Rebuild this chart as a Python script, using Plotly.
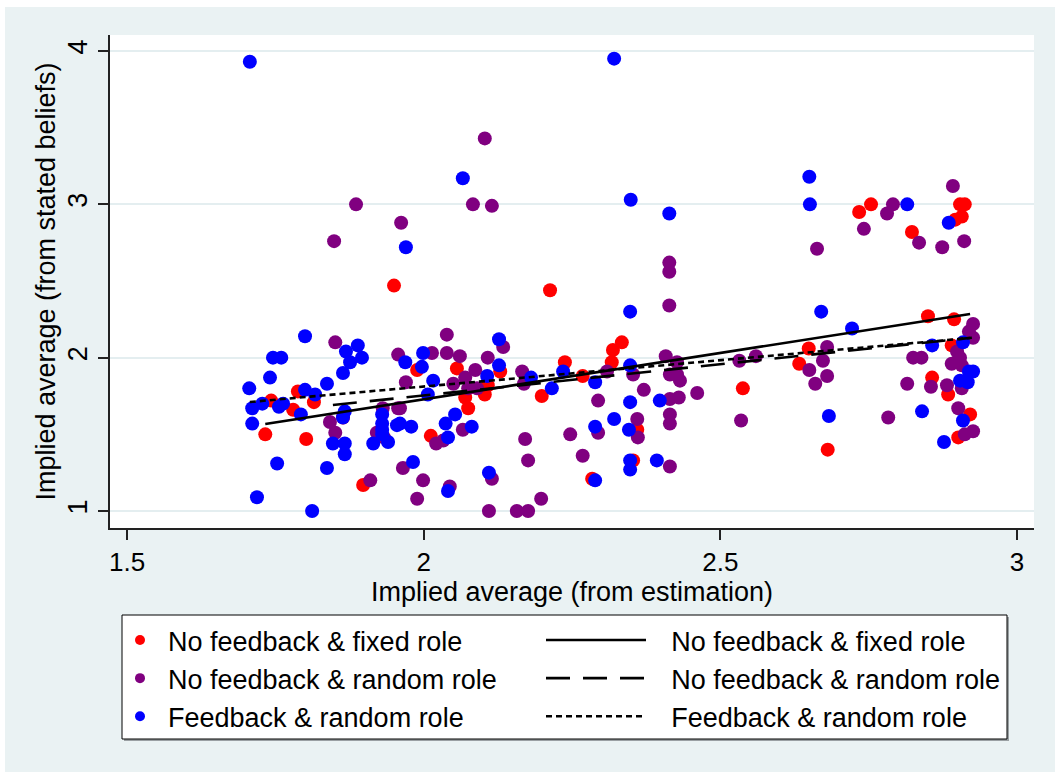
import plotly.graph_objects as go

# Implied averages per participant, by treatment
red_x = [2.213, 1.950, 2.734, 2.754, 2.823, 2.850, 2.649, 2.633, 2.857, 2.681,
         2.894, 2.890, 2.884, 2.921, 2.901, 2.538, 2.904, 2.912, 2.907, 2.896,
         2.334, 2.319, 2.317, 2.238, 2.268, 2.360, 2.353, 2.284, 1.989, 2.056,
         2.129, 2.108, 2.199, 2.103, 2.070, 2.075, 2.012, 1.788, 1.815, 1.743,
         1.780, 1.864, 1.733, 1.802, 1.898]
red_y = [2.44, 2.47, 2.95, 3.00, 2.82, 2.27, 2.06, 1.96, 1.87, 1.40,
         2.25, 2.08, 1.76, 1.63, 1.48, 1.80, 3.00, 3.00, 2.92, 2.90,
         2.10, 2.05, 1.97, 1.97, 1.88, 1.53, 1.33, 1.21, 1.92, 1.93,
         1.91, 1.82, 1.75, 1.76, 1.74, 1.67, 1.49, 1.78, 1.71, 1.72,
         1.66, 1.61, 1.50, 1.47, 1.17]

purple_x = [2.103, 1.886, 2.083, 2.115, 1.962, 1.849, 2.414, 2.414, 2.414, 2.791,
            2.781, 2.742, 2.835, 2.874, 2.663, 2.825, 2.839, 2.680, 2.673, 2.650,
            2.680, 2.660, 2.815, 2.855, 2.783, 2.926, 2.919, 2.926, 2.899, 2.904,
            2.890, 2.907, 2.907, 2.882, 2.901, 2.912, 2.926, 2.535, 2.532, 2.560,
            2.892, 2.911, 2.309, 2.353, 2.408, 2.427, 2.415, 2.427, 2.432, 2.371,
            2.461, 2.294, 2.415, 2.430, 2.415, 2.415, 2.360, 2.294, 2.361, 2.247,
            2.268, 2.415, 2.039, 2.134, 2.014, 2.039, 2.061, 2.108, 2.087, 2.070,
            2.166, 2.169, 1.970, 2.050, 2.075, 2.090, 1.960, 2.066, 2.021, 2.033,
            2.171, 2.176, 1.965, 2.115, 1.999, 2.044, 1.989, 2.198, 2.110, 2.157,
            2.176, 1.851, 1.957, 1.842, 1.851, 1.931, 1.957, 1.921, 1.933, 1.910]
purple_y = [3.43, 3.00, 3.00, 2.99, 2.88, 2.76, 2.62, 2.56, 2.34, 3.00,
            2.94, 2.84, 2.75, 2.72, 2.71, 2.00, 2.00, 2.07, 1.98, 1.92,
            1.88, 1.83, 1.83, 1.81, 1.61, 2.22, 2.17, 2.13, 2.04, 2.00,
            1.96, 1.95, 1.80, 1.82, 1.67, 1.50, 1.52, 1.59, 1.98, 2.01,
            3.12, 2.76, 1.91, 1.89, 2.01, 1.97, 1.89, 1.89, 1.85, 1.79,
            1.77, 1.72, 1.73, 1.74, 1.63, 1.57, 1.60, 1.51, 1.48, 1.50,
            1.36, 1.29, 2.15, 2.07, 2.03, 2.03, 2.01, 2.00, 1.92, 1.87,
            1.91, 1.83, 1.84, 1.83, 1.80, 1.80, 1.67, 1.53, 1.44, 1.46,
            1.47, 1.33, 1.28, 1.21, 1.20, 1.16, 1.08, 1.08, 1.00, 1.00,
            1.00, 2.10, 2.02, 1.58, 1.51, 1.67, 1.67, 1.51, 1.48, 1.20]

blue_x = [1.707, 2.321, 2.066, 1.970, 2.349, 2.414, 2.348, 2.651, 2.650, 2.815,
          2.670, 2.722, 2.857, 2.683, 2.840, 2.877, 2.909, 2.919, 2.926, 2.904,
          2.917, 2.909, 2.885, 2.235, 2.289, 2.348, 2.348, 2.398, 2.321, 2.289,
          2.346, 2.348, 2.348, 2.393, 2.289, 2.127, 1.999, 1.969, 1.997, 2.127,
          2.107, 2.181, 2.016, 2.216, 2.007, 2.053, 1.960, 1.979, 2.037, 2.081,
          2.041, 1.982, 2.110, 2.041, 1.800, 1.746, 1.760, 1.869, 1.889, 1.876,
          1.896, 1.864, 1.741, 1.706, 1.837, 1.800, 1.817, 1.728, 1.711, 1.756,
          1.763, 1.793, 1.867, 1.864, 1.711, 1.847, 1.867, 1.867, 1.930, 1.955,
          1.930, 1.930, 1.930, 1.915, 1.940, 1.753, 1.837, 1.719, 1.812]
blue_y = [3.93, 3.95, 3.17, 2.72, 3.03, 2.94, 2.30, 3.00, 3.18, 3.00,
          2.30, 2.19, 2.08, 1.62, 1.65, 1.45, 2.10, 1.91, 1.91, 1.85,
          1.84, 1.59, 2.88, 1.91, 1.84, 1.95, 1.71, 1.72, 1.60, 1.55,
          1.53, 1.33, 1.27, 1.33, 1.20, 2.12, 2.03, 1.97, 1.94, 1.95,
          1.88, 1.87, 1.85, 1.80, 1.76, 1.63, 1.57, 1.55, 1.57, 1.55,
          1.48, 1.32, 1.25, 1.13, 2.14, 2.00, 2.00, 2.04, 2.08, 1.97,
          2.00, 1.90, 1.87, 1.80, 1.83, 1.79, 1.76, 1.70, 1.67, 1.68,
          1.70, 1.63, 1.65, 1.61, 1.57, 1.44, 1.44, 1.37, 1.63, 1.56,
          1.57, 1.53, 1.50, 1.44, 1.45, 1.31, 1.28, 1.09, 1.00]

# Linear fits (endpoints over each group's range)
fit_fixed_x = [1.733, 2.921]
fit_fixed_y = [1.567, 2.285]
fit_random_x = [1.847, 2.924]
fit_random_y = [1.691, 2.130]
fit_feedback_x = [1.707, 2.921]
fit_feedback_y = [1.711, 2.128]

labels = ["No feedback & fixed role", "No feedback & random role", "Feedback & random role"]
colors = ["#ff0000", "#800080", "#0000ff"]
dashes = ["solid", "24px,13px", "6px,4px"]

W, H = 1055, 772
L, R, T, B = 110, 21, 35, 244
PW, PH = W - L - R, H - T - B
BG = "#eaf2f3"
FONT = "Liberation Sans, Arial, sans-serif"
LEGEND_FONT = dict(family=FONT, size=27, color="black")


def px(x):
    return (x - L) / PW


def py(y):
    return (H - B - y) / PH


fig = go.Figure()

groups = [(red_x, red_y), (purple_x, purple_y), (blue_x, blue_y)]
for (gx, gy), c in zip(groups, colors):
    fig.add_trace(go.Scatter(x=gx, y=gy, mode="markers", showlegend=False,
                             marker=dict(color=c, size=14, line=dict(width=0)),
                             hoverinfo="x+y"))

fits = [(fit_fixed_x, fit_fixed_y), (fit_random_x, fit_random_y),
        (fit_feedback_x, fit_feedback_y)]
for (fx, fy), d, lab in zip(fits, dashes, labels):
    fig.add_trace(go.Scatter(x=fx, y=fy, mode="lines", name="\u2002\u2005" + lab,
                             legend="legend2",
                             line=dict(color="black", width=2.6, dash=d)))

# legend keys for the marker groups
for c, lab in zip(colors, labels):
    fig.add_trace(go.Scatter(x=[None], y=[None], mode="markers", name=lab,
                             legend="legend", marker=dict(color=c, size=10)))

shapes = [
    # outer graph region
    dict(type="rect", xref="paper", yref="paper", layer="below",
         x0=px(5), x1=px(W + 5), y0=py(H + 5), y1=py(7),
         fillcolor=BG, line=dict(width=0)),
    # plot region
    dict(type="rect", xref="paper", yref="paper", layer="below",
         x0=0, x1=1, y0=0, y1=1, fillcolor="white", line=dict(width=0)),
    # legend box shadow and frame
    dict(type="rect", xref="paper", yref="paper", layer="below",
         x0=px(124), x1=px(1009), y0=py(741), y1=py(617),
         fillcolor="#9aa0a3", line=dict(width=0)),
    dict(type="rect", xref="paper", yref="paper", layer="below",
         x0=px(122), x1=px(1007), y0=py(739), y1=py(615),
         fillcolor="white", line=dict(color="black", width=1)),
]

fig.update_layout(
    width=W, height=H,
    margin=dict(l=L, r=R, t=T, b=B, pad=0),
    paper_bgcolor="white", plot_bgcolor="white",
    font=dict(family=FONT, size=26, color="black"),
    shapes=shapes,
    legend=dict(x=px(112), y=py(616), xanchor="left", yanchor="top",
                bgcolor="rgba(0,0,0,0)", borderwidth=0,
                font=LEGEND_FONT, itemwidth=46, tracegroupgap=0),
    legend2=dict(x=px(541), y=py(616), xanchor="left", yanchor="top",
                 bgcolor="rgba(0,0,0,0)", borderwidth=0,
                 font=LEGEND_FONT, itemwidth=100, tracegroupgap=0),
    xaxis=dict(range=[1.4713, 3.0287], tickvals=[1.5, 2, 2.5, 3],
               ticktext=["1.5", "2", "2.5", "3"],
               showgrid=False, zeroline=False,
               showline=True, linecolor="#222", linewidth=1.5,
               ticks="outside", ticklen=10, tickwidth=1.5, tickcolor="#222",
               tickfont=dict(size=26),
               title=dict(text="Implied average (from estimation)",
                          font=dict(size=27), standoff=4)),
    yaxis=dict(range=[0.8891, 4.1043], tickvals=[1, 2, 3, 4],
               ticktext=["1", "2", "3", "4"], tickangle=-90,
               showgrid=True, gridcolor="#e4eef0", gridwidth=2,
               zeroline=False,
               showline=True, linecolor="#222", linewidth=1.5,
               ticks="outside", ticklen=10, tickwidth=1.5, tickcolor="#222",
               tickfont=dict(size=27),
               title=dict(text="Implied average (from stated beliefs)",
                          font=dict(size=27), standoff=0)),
)

fig.write_html("out.html")
